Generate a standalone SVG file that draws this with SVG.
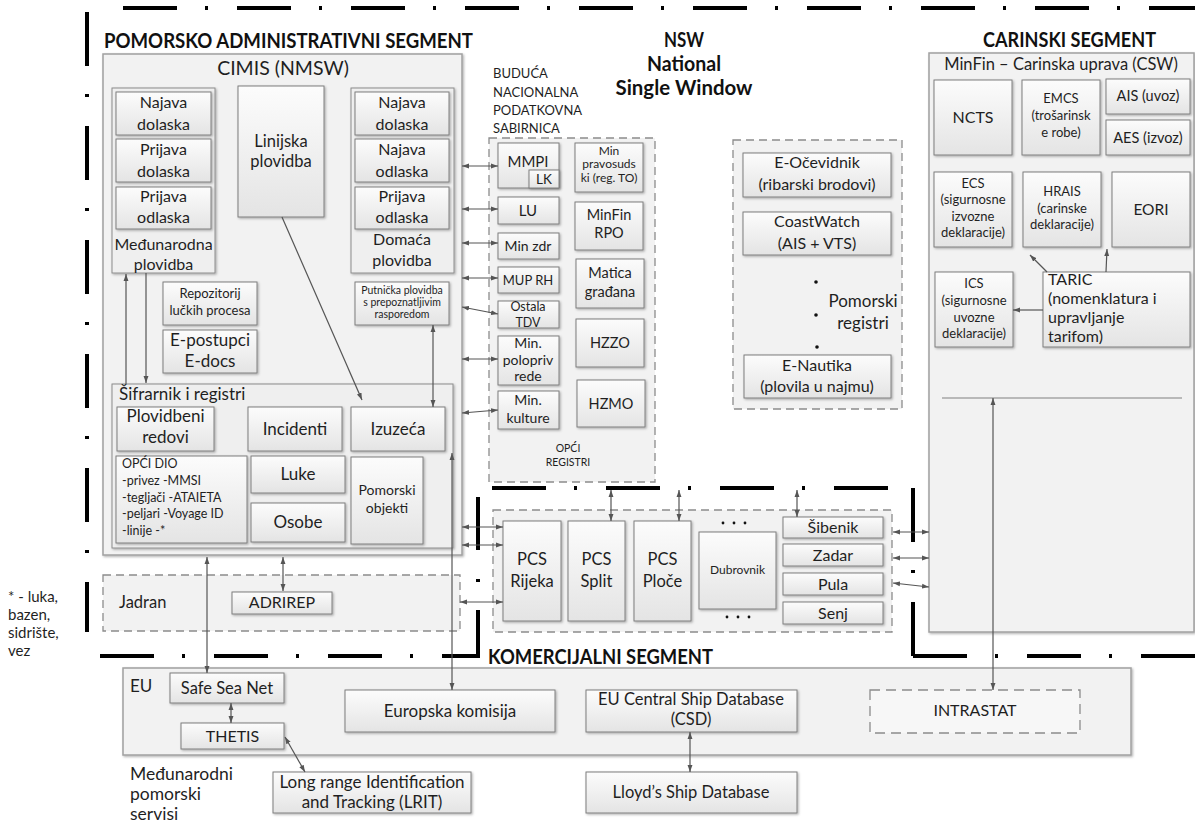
<svg xmlns="http://www.w3.org/2000/svg" width="1195" height="823" viewBox="0 0 1195 823" font-size="16.5">
<defs>
<style>
.sep{fill:none;stroke:#000;stroke-width:4;stroke-dasharray:54 28 3 29}
.box{fill:url(#g);stroke:#7f7f7f;stroke-width:1;filter:url(#sh)}
.out{fill:#f2f2f2;stroke:#a0a0a0;stroke-width:1.5;filter:url(#sh)}
.grp{fill:#efefef;stroke:#8c8c8c;stroke-width:1;filter:url(#sh)}
.dsh{fill:#f2f2f2;stroke:#8c8c8c;stroke-width:1.3;stroke-dasharray:8 5}
.t{font-family:Lato,'Liberation Sans',sans-serif;fill:#1f1f1f;text-anchor:middle}
.l{text-anchor:start}
.b{font-weight:bold;fill:#111}
.c{fill:none;stroke:#555;stroke-width:1.2}
.bi{marker-start:url(#ah);marker-end:url(#ah)}
.e{marker-end:url(#ah)}
.dot{fill:#111}
</style>
<linearGradient id="g" x1="0" y1="0" x2="0" y2="1"><stop offset="0" stop-color="#fcfcfc"/><stop offset="1" stop-color="#e4e4e4"/></linearGradient>
<filter id="sh" x="-10%" y="-10%" width="130%" height="130%"><feDropShadow dx="1.2" dy="1.2" stdDeviation="0.8" flood-color="#000" flood-opacity="0.3"/></filter>
<marker id="ah" viewBox="0 0 10 10" refX="10" refY="5" markerWidth="7" markerHeight="7" markerUnits="userSpaceOnUse" orient="auto-start-reverse"><path d="M0,1.5 L10,5 L0,8.5 z" fill="#555"/></marker>
</defs>

<g id="separators">
<line class="sep" x1="123" y1="8" x2="1195" y2="8"/>
<line class="sep" x1="87" y1="12" x2="87" y2="632"/>
<line class="sep" x1="100" y1="656" x2="480" y2="656"/>
<line class="sep" x1="478" y1="656" x2="478" y2="497" stroke-dashoffset="8"/>
<line class="sep" x1="492" y1="488" x2="888" y2="488"/>
<line class="sep" x1="913" y1="488" x2="913" y2="656"/>
<line class="sep" x1="913" y1="656" x2="1195" y2="656"/>
</g>

<g id="titles">
<text class="t l b" x="104" y="48" font-size="20" textLength="369" lengthAdjust="spacingAndGlyphs">POMORSKO ADMINISTRATIVNI SEGMENT</text>
<text class="t b" x="684" y="47" font-size="21" textLength="40" lengthAdjust="spacingAndGlyphs">NSW</text>
<text class="t b" x="684" y="71" font-size="21" textLength="74" lengthAdjust="spacingAndGlyphs">National</text>
<text class="t b" x="684" y="95" font-size="21" textLength="137" lengthAdjust="spacingAndGlyphs">Single Window</text>
<text class="t l b" x="983" y="47" font-size="20" textLength="173" lengthAdjust="spacingAndGlyphs">CARINSKI SEGMENT</text>
<text class="t l b" x="488" y="664" font-size="20" textLength="225" lengthAdjust="spacingAndGlyphs">KOMERCIJALNI SEGMENT</text>
<text class="t l" x="8" y="602" font-size="15">* - luka,</text>
<text class="t l" x="8" y="620" font-size="15">bazen,</text>
<text class="t l" x="8" y="638" font-size="15">sidrište,</text>
<text class="t l" x="8" y="656" font-size="15">vez</text>
</g>

<g id="cimis">
<rect class="out" x="103" y="54" width="359" height="501"/>
<text class="t" x="283" y="75" font-size="19.5">CIMIS (NMSW)</text>
</g>

<g id="medunarodna">
<rect class="grp" x="112" y="88" width="103" height="185"/>
<rect class="box" x="116" y="92" width="95" height="43"/>
<text class="t" x="163.5" y="108" font-size="16">Najava</text><text class="t" x="163.5" y="130" font-size="16">dolaska</text>
<rect class="box" x="116" y="139" width="95" height="43"/>
<text class="t" x="163.5" y="155" font-size="16">Prijava</text><text class="t" x="163.5" y="177" font-size="16">dolaska</text>
<rect class="box" x="116" y="187" width="95" height="42"/>
<text class="t" x="163.5" y="202" font-size="16">Prijava</text><text class="t" x="163.5" y="223" font-size="16">odlaska</text>
<text class="t" x="163.5" y="250" font-size="16">Međunarodna</text><text class="t" x="163.5" y="270" font-size="16">plovidba</text>
</g>

<g id="linijska">
<rect class="box" x="238" y="86" width="86" height="131"/>
<text class="t" x="281" y="147">Linijska</text><text class="t" x="281" y="167">plovidba</text>
</g>

<g id="domaca">
<rect class="grp" x="351" y="88" width="103" height="185"/>
<rect class="box" x="355" y="92" width="94" height="43"/>
<text class="t" x="402" y="108" font-size="16">Najava</text><text class="t" x="402" y="130" font-size="16">dolaska</text>
<rect class="box" x="355" y="139" width="94" height="43"/>
<text class="t" x="402" y="155" font-size="16">Najava</text><text class="t" x="402" y="177" font-size="16">odlaska</text>
<rect class="box" x="355" y="187" width="94" height="42"/>
<text class="t" x="402" y="202" font-size="16">Prijava</text><text class="t" x="402" y="223" font-size="16">odlaska</text>
<text class="t" x="402" y="245" font-size="16">Domaća</text><text class="t" x="402" y="266" font-size="16">plovidba</text>
</g>

<g id="repozitorij">
<rect class="box" x="163" y="282" width="94" height="43"/>
<text class="t" x="210" y="298" font-size="13">Repozitorij</text><text class="t" x="210" y="315" font-size="13">lučkih procesa</text>
</g>
<g id="epostupci">
<rect class="box" x="163" y="330" width="94" height="43"/>
<text class="t" x="210" y="346" font-size="17">E-postupci</text><text class="t" x="210" y="367" font-size="17">E-docs</text>
</g>
<g id="putnicka">
<rect class="box" x="355" y="282" width="94" height="43"/>
<text class="t" x="402" y="294" font-size="10.5">Putnička plovidba</text>
<text class="t" x="402" y="306" font-size="10.5">s prepoznatljivim</text>
<text class="t" x="402" y="318" font-size="10.5">rasporedom</text>
</g>

<g id="sifrarnik">
<rect class="grp" x="112" y="384" width="341" height="164"/>
<text class="t l" x="119" y="400" font-size="17">Šifrarnik i registri</text>
<rect class="box" x="117" y="407" width="97" height="44"/>
<text class="t" x="165.5" y="422" font-size="17">Plovidbeni</text><text class="t" x="165.5" y="443" font-size="17">redovi</text>
<rect class="box" x="248" y="407" width="94" height="44"/>
<text class="t" x="295" y="435" font-size="17">Incidenti</text>
<rect class="box" x="351" y="407" width="94" height="44"/>
<text class="t" x="398" y="435" font-size="17">Izuzeća</text>
<rect class="box" x="116" y="456" width="131" height="87"/>
<text class="t l" x="122" y="468" font-size="12.5">OPĆI DIO</text>
<text class="t l" x="122" y="485" font-size="12.5">-privez -MMSI</text>
<text class="t l" x="122" y="502" font-size="12.5">-tegljači -ATAIETA</text>
<text class="t l" x="122" y="518" font-size="12.5">-peljari -Voyage ID</text>
<text class="t l" x="122" y="535" font-size="12.5">-linije -*</text>
<rect class="box" x="251" y="456" width="94" height="37"/>
<text class="t" x="298" y="480" font-size="17">Luke</text>
<rect class="box" x="251" y="503" width="94" height="39"/>
<text class="t" x="298" y="528" font-size="17">Osobe</text>
<rect class="box" x="351" y="457" width="72" height="87"/>
<text class="t" x="387" y="495" font-size="14">Pomorski</text><text class="t" x="387" y="513" font-size="14">objekti</text>
</g>

<g id="jadran">
<rect class="dsh" x="103" y="575" width="357" height="56"/>
<text class="t l" x="119" y="608">Jadran</text>
<rect class="box" x="232" y="592" width="100" height="22"/>
<text class="t" x="282" y="608" font-size="16">ADRIREP</text>
</g>

<g id="nsw">
<text class="t l" x="493" y="78" font-size="13">BUDUĆA</text>
<text class="t l" x="493" y="97" font-size="13">NACIONALNA</text>
<text class="t l" x="493" y="115" font-size="13">PODATKOVNA</text>
<text class="t l" x="493" y="133" font-size="13">SABIRNICA</text>
<rect class="dsh" x="489" y="138" width="166" height="344"/>
<rect class="box" x="498" y="143" width="61" height="45"/>
<text class="t" x="528" y="167" font-size="15">MMPI</text>
<rect class="box" x="529" y="170" width="30" height="18"/>
<text class="t" x="544" y="184" font-size="13.5">LK</text>
<rect class="box" x="498" y="197" width="61" height="27"/>
<text class="t" x="528" y="216" font-size="15">LU</text>
<rect class="box" x="498" y="233" width="61" height="26"/>
<text class="t" x="528" y="251" font-size="14">Min zdr</text>
<rect class="box" x="498" y="267" width="61" height="26"/>
<text class="t" x="528" y="285" font-size="13">MUP RH</text>
<rect class="box" x="498" y="301" width="61" height="27"/>
<text class="t" x="528" y="311" font-size="12.5">Ostala</text><text class="t" x="528" y="327" font-size="12.5">TDV</text>
<rect class="box" x="498" y="336" width="61" height="49"/>
<text class="t" x="528" y="348" font-size="14">Min.</text><text class="t" x="528" y="365" font-size="14">polopriv</text><text class="t" x="528" y="381" font-size="14">rede</text>
<rect class="box" x="498" y="391" width="61" height="38"/>
<text class="t" x="528" y="405" font-size="14">Min.</text><text class="t" x="528" y="423" font-size="14">kulture</text>
<rect class="box" x="575" y="143" width="68" height="49"/>
<text class="t" x="609" y="155" font-size="12">Min</text><text class="t" x="609" y="168" font-size="12">pravosuds</text><text class="t" x="609" y="182" font-size="12">ki (reg. TO)</text>
<rect class="box" x="575" y="202" width="68" height="48"/>
<text class="t" x="609" y="220" font-size="14.5">MinFin</text><text class="t" x="609" y="238" font-size="14.5">RPO</text>
<rect class="box" x="576" y="259" width="68" height="49"/>
<text class="t" x="610" y="278" font-size="14.5">Matica</text><text class="t" x="610" y="297" font-size="14.5">građana</text>
<rect class="box" x="576" y="319" width="68" height="48"/>
<text class="t" x="610" y="348" font-size="14.5">HZZO</text>
<rect class="box" x="577" y="380" width="68" height="47"/>
<text class="t" x="611" y="409" font-size="14.5">HZMO</text>
<text class="t" x="568" y="452" font-size="10.5">OPĆI</text><text class="t" x="568" y="466" font-size="10.5">REGISTRI</text>
</g>

<g id="pomorski-registri">
<rect class="dsh" x="733" y="140" width="169" height="269"/>
<rect class="box" x="743" y="153" width="148" height="44"/>
<text class="t" x="817" y="168" font-size="16">E-Očevidnik</text><text class="t" x="817" y="190" font-size="16">(ribarski brodovi)</text>
<rect class="box" x="743" y="212" width="148" height="43"/>
<text class="t" x="817" y="227" font-size="16">CoastWatch</text><text class="t" x="817" y="249" font-size="16">(AIS + VTS)</text>
<circle class="dot" cx="816" cy="282" r="1.8"/><circle class="dot" cx="816" cy="315" r="1.8"/><circle class="dot" cx="817" cy="347" r="1.8"/>
<text class="t" x="863" y="307" font-size="17">Pomorski</text><text class="t" x="863" y="329" font-size="17">registri</text>
<rect class="box" x="744" y="355" width="147" height="43"/>
<text class="t" x="817" y="371" font-size="16">E-Nautika</text><text class="t" x="817" y="392" font-size="16">(plovila u najmu)</text>
</g>

<g id="csw">
<rect class="out" x="929" y="53" width="265" height="579"/>
<text class="t" x="1061" y="70" font-size="16.5">MinFin – Carinska uprava (CSW)</text>
<rect class="box" x="934" y="80" width="78" height="75"/>
<text class="t" x="973" y="123" font-size="16">NCTS</text>
<rect class="box" x="1022" y="80" width="78" height="75"/>
<text class="t" x="1061" y="103" font-size="13">EMCS</text><text class="t" x="1061" y="120" font-size="13">(trošarinsk</text><text class="t" x="1061" y="137" font-size="13">e robe)</text>
<rect class="box" x="1106" y="79" width="84" height="35"/>
<text class="t" x="1148" y="101" font-size="14.5">AIS (uvoz)</text>
<rect class="box" x="1106" y="120" width="84" height="35"/>
<text class="t" x="1148" y="143" font-size="14.5">AES (izvoz)</text>
<rect class="box" x="934" y="172" width="78" height="75"/>
<text class="t" x="973" y="188" font-size="13">ECS</text><text class="t" x="973" y="204" font-size="13">(sigurnosne</text><text class="t" x="973" y="221" font-size="13">izvozne</text><text class="t" x="973" y="237" font-size="13">deklaracije)</text>
<rect class="box" x="1023" y="172" width="78" height="75"/>
<text class="t" x="1062" y="196" font-size="13">HRAIS</text><text class="t" x="1062" y="213" font-size="13">(carinske</text><text class="t" x="1062" y="229" font-size="13">deklaracije)</text>
<rect class="box" x="1112" y="172" width="78" height="75"/>
<text class="t" x="1151" y="215" font-size="15.5">EORI</text>
<rect class="box" x="935" y="272" width="78" height="75"/>
<text class="t" x="974" y="288" font-size="13">ICS</text><text class="t" x="974" y="305" font-size="13">(sigurnosne</text><text class="t" x="974" y="322" font-size="13">uvozne</text><text class="t" x="974" y="338" font-size="13">deklaracije)</text>
<rect class="box" x="1043" y="272" width="147" height="75"/>
<text class="t l" x="1048" y="285" font-size="16">TARIC</text><text class="t l" x="1048" y="304" font-size="16">(nomenklatura i</text><text class="t l" x="1048" y="323" font-size="16">upravljanje</text><text class="t l" x="1048" y="342" font-size="16">tarifom)</text>
<line x1="942" y1="398" x2="1182" y2="398" stroke="#808080" stroke-width="1.2"/>
</g>

<g id="pcs">
<rect class="dsh" x="493" y="510" width="399" height="122"/>
<rect class="box" x="503" y="521" width="58" height="100"/>
<text class="t" x="532" y="565">PCS</text><text class="t" x="532" y="587">Rijeka</text>
<rect class="box" x="568" y="521" width="57" height="100"/>
<text class="t" x="596.5" y="565">PCS</text><text class="t" x="596.5" y="587">Split</text>
<rect class="box" x="634" y="521" width="57" height="100"/>
<text class="t" x="662.5" y="565">PCS</text><text class="t" x="662.5" y="587">Ploče</text>
<rect class="box" x="699" y="532" width="77" height="77"/>
<text class="t" x="737.5" y="574" font-size="12">Dubrovnik</text>
<circle class="dot" cx="723" cy="523" r="1.4"/><circle class="dot" cx="734" cy="523" r="1.4"/><circle class="dot" cx="745" cy="523" r="1.4"/>
<circle class="dot" cx="727" cy="617" r="1.4"/><circle class="dot" cx="738" cy="617" r="1.4"/><circle class="dot" cx="749" cy="617" r="1.4"/>
<rect class="box" x="783" y="517" width="100" height="21"/>
<text class="t" x="833" y="533" font-size="16">Šibenik</text>
<rect class="box" x="783" y="544" width="100" height="22"/>
<text class="t" x="833" y="561" font-size="16">Zadar</text>
<rect class="box" x="783" y="573" width="100" height="22"/>
<text class="t" x="833" y="590" font-size="16">Pula</text>
<rect class="box" x="783" y="602" width="100" height="22"/>
<text class="t" x="833" y="619" font-size="16">Senj</text>
</g>

<g id="eu">
<rect class="out" x="123" y="668" width="1008" height="87"/>
<text class="t l" x="130" y="692" font-size="17">EU</text>
<rect class="box" x="170" y="673" width="114" height="30"/>
<text class="t" x="227" y="694" font-size="16.5">Safe Sea Net</text>
<rect class="box" x="181" y="723" width="103" height="26"/>
<text class="t" x="232.5" y="742" font-size="16">THETIS</text>
<rect class="box" x="345" y="690" width="210" height="42"/>
<text class="t" x="450" y="717" font-size="17">Europska komisija</text>
<rect class="box" x="586" y="690" width="211" height="42"/>
<text class="t" x="691" y="705" font-size="16.5">EU Central Ship Database</text><text class="t" x="691" y="725" font-size="16.5">(CSD)</text>
<rect x="870" y="690" width="210" height="43" fill="#f7f7f7" stroke="#8c8c8c" stroke-width="1.3" stroke-dasharray="10 6"/>
<text class="t" x="975" y="716" font-size="16">INTRASTAT</text>
</g>
<g id="international">
<text class="t l" x="130" y="780" font-size="17.5">Međunarodni</text>
<text class="t l" x="130" y="800" font-size="17.5">pomorski</text>
<text class="t l" x="130" y="820" font-size="17.5">servisi</text>
<rect class="box" x="273" y="772" width="198" height="41"/>
<text class="t" x="372" y="788" font-size="17">Long range Identification</text><text class="t" x="372" y="808" font-size="17">and Tracking (LRIT)</text>
<rect class="box" x="586" y="772" width="211" height="41"/>
<text class="t" x="691" y="798" font-size="16.5">Lloyd’s Ship Database</text>
</g>

<g id="connectors">
<line class="c e" x1="282" y1="217" x2="362" y2="400"/>
<line class="c bi" x1="433" y1="325" x2="433" y2="407"/>
<line class="c e" x1="126" y1="384" x2="126" y2="274"/>
<line class="c e" x1="146" y1="273" x2="146" y2="383"/>
<line class="c bi" x1="462" y1="166" x2="498" y2="166"/>
<line class="c bi" x1="462" y1="209" x2="498" y2="209"/>
<line class="c bi" x1="462" y1="243" x2="498" y2="243"/>
<line class="c bi" x1="462" y1="278" x2="498" y2="278"/>
<line class="c bi" x1="462" y1="307" x2="498" y2="314"/>
<line class="c bi" x1="462" y1="359" x2="498" y2="359"/>
<line class="c bi" x1="462" y1="413" x2="498" y2="410"/>
<line class="c bi" x1="462" y1="527" x2="503" y2="527"/>
<line class="c bi" x1="462" y1="545" x2="503" y2="545"/>
<line class="c bi" x1="460" y1="602" x2="503" y2="602"/>
<line class="c bi" x1="207" y1="557" x2="207" y2="673"/>
<line class="c bi" x1="283" y1="557" x2="283" y2="591"/>
<line class="c bi" x1="452" y1="453" x2="452" y2="690"/>
<line class="c bi" x1="611" y1="490" x2="611" y2="521"/>
<line class="c bi" x1="679" y1="490" x2="679" y2="521"/>
<line class="c bi" x1="797" y1="490" x2="797" y2="517"/>
<line class="c bi" x1="893" y1="532" x2="929" y2="532"/>
<line class="c bi" x1="893" y1="558" x2="929" y2="558"/>
<line class="c bi" x1="893" y1="583" x2="929" y2="587"/>
<line class="c bi" x1="993" y1="398" x2="993" y2="690"/>
<line class="c e" x1="1047" y1="272" x2="1030" y2="255"/>
<line class="c e" x1="1106" y1="272" x2="1107" y2="249"/>
<line class="c e" x1="1043" y1="310" x2="1013" y2="310"/>
<line class="c bi" x1="231" y1="703" x2="231" y2="723"/>
<line class="c bi" x1="285" y1="737" x2="305" y2="772"/>
<line class="c bi" x1="690" y1="732" x2="690" y2="772"/>
</g>
</svg>
